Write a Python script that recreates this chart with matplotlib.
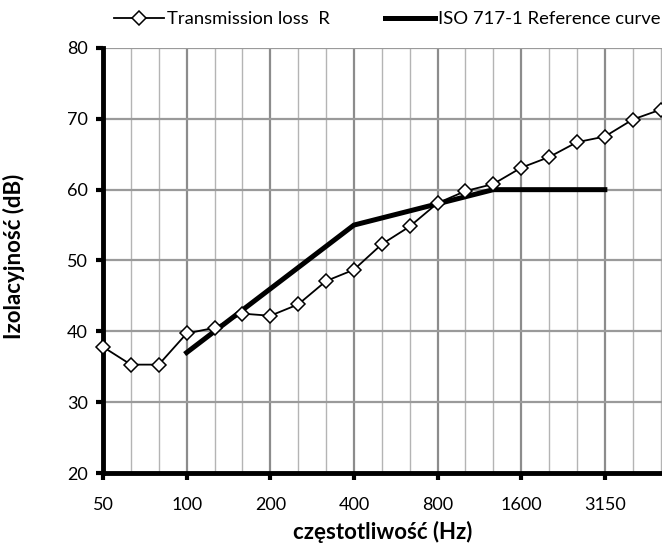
import numpy as np
import matplotlib.pyplot as plt

# third-octave bands, 50 Hz .. 5000 Hz
bands = [50, 63, 80, 100, 125, 160, 200, 250, 315, 400, 500,
         630, 800, 1000, 1250, 1600, 2000, 2500, 3150, 4000, 5000]
tick_labels = ['50', '100', '200', '400', '800', '1600', '3150']

transmission_loss = [37.8, 35.3, 35.3, 39.7, 40.5, 42.5, 42.2, 43.8, 47.1, 48.7,
                     52.3, 54.8, 58.1, 59.8, 60.8, 63.1, 64.6, 66.7, 67.5, 69.9, 71.3]

ref_bands = [100, 125, 160, 200, 250, 315, 400, 500, 630, 800, 1000,
             1250, 1600, 2000, 2500, 3150]
ref_curve = [37, 40, 43, 46, 49, 52, 55, 56, 57, 58, 59, 60, 60, 60, 60, 60]

plt.rcParams['font.family'] = ['Lato', 'DejaVu Sans']

x = np.arange(len(bands))
x_ref = np.array([bands.index(b) for b in ref_bands])
x_ticks = [bands.index(int(t)) for t in tick_labels]

fig = plt.figure(figsize=(6.62, 5.44), dpi=100)
ax = fig.add_axes([0.1556, 0.1305, 0.8444, 0.7813])

# grid
for xi in x:
    major = xi in x_ticks
    ax.axvline(xi, color='#8c8c8c' if major else '#b4b4b4',
               lw=1.6 if major else 1.0, zorder=0)
for yv in range(30, 81, 10):
    ax.axhline(yv, color='#9a9a9a', lw=1.6, zorder=0)

l1, = ax.plot(x, transmission_loss, color='black', lw=1.3, marker='D',
              markersize=7, markerfacecolor='white', markeredgecolor='black',
              markeredgewidth=1.1, label='Transmission loss  R', zorder=4,
              clip_on=False)
l2, = ax.plot(x_ref, ref_curve, color='black', lw=3.6,
              label='ISO 717-1 Reference curve', zorder=3)

ax.set_xlim(0, 20.05)
ax.set_ylim(20, 80)
ax.set_xticks(x_ticks)
ax.set_xticklabels(tick_labels, fontsize=13)
ax.set_yticks(range(20, 81, 10))
ax.tick_params(axis='y', labelsize=13, length=5, width=3, direction='out', pad=6)
ax.tick_params(axis='x', length=5, width=3, direction='out', pad=12)

for s in ['top', 'right']:
    ax.spines[s].set_visible(False)
for s in ['left', 'bottom']:
    ax.spines[s].set_linewidth(3.5)
    ax.spines[s].set_zorder(2.5)

ax.set_xlabel('częstotliwość (Hz)', fontsize=16, fontweight='bold', labelpad=6)
fig.text(14 / 662, 1 - 256 / 544, 'Izolacyjność (dB)', rotation=90,
         ha='center', va='center', fontsize=16, fontweight='bold')

fig.legend(handles=[l1, l2], loc='center', bbox_to_anchor=(0.585, 0.965),
           ncol=2, frameon=False, fontsize=13.3, handlelength=2.7,
           handletextpad=0.15, columnspacing=3.0)

fig.savefig('out.png', dpi=100)
